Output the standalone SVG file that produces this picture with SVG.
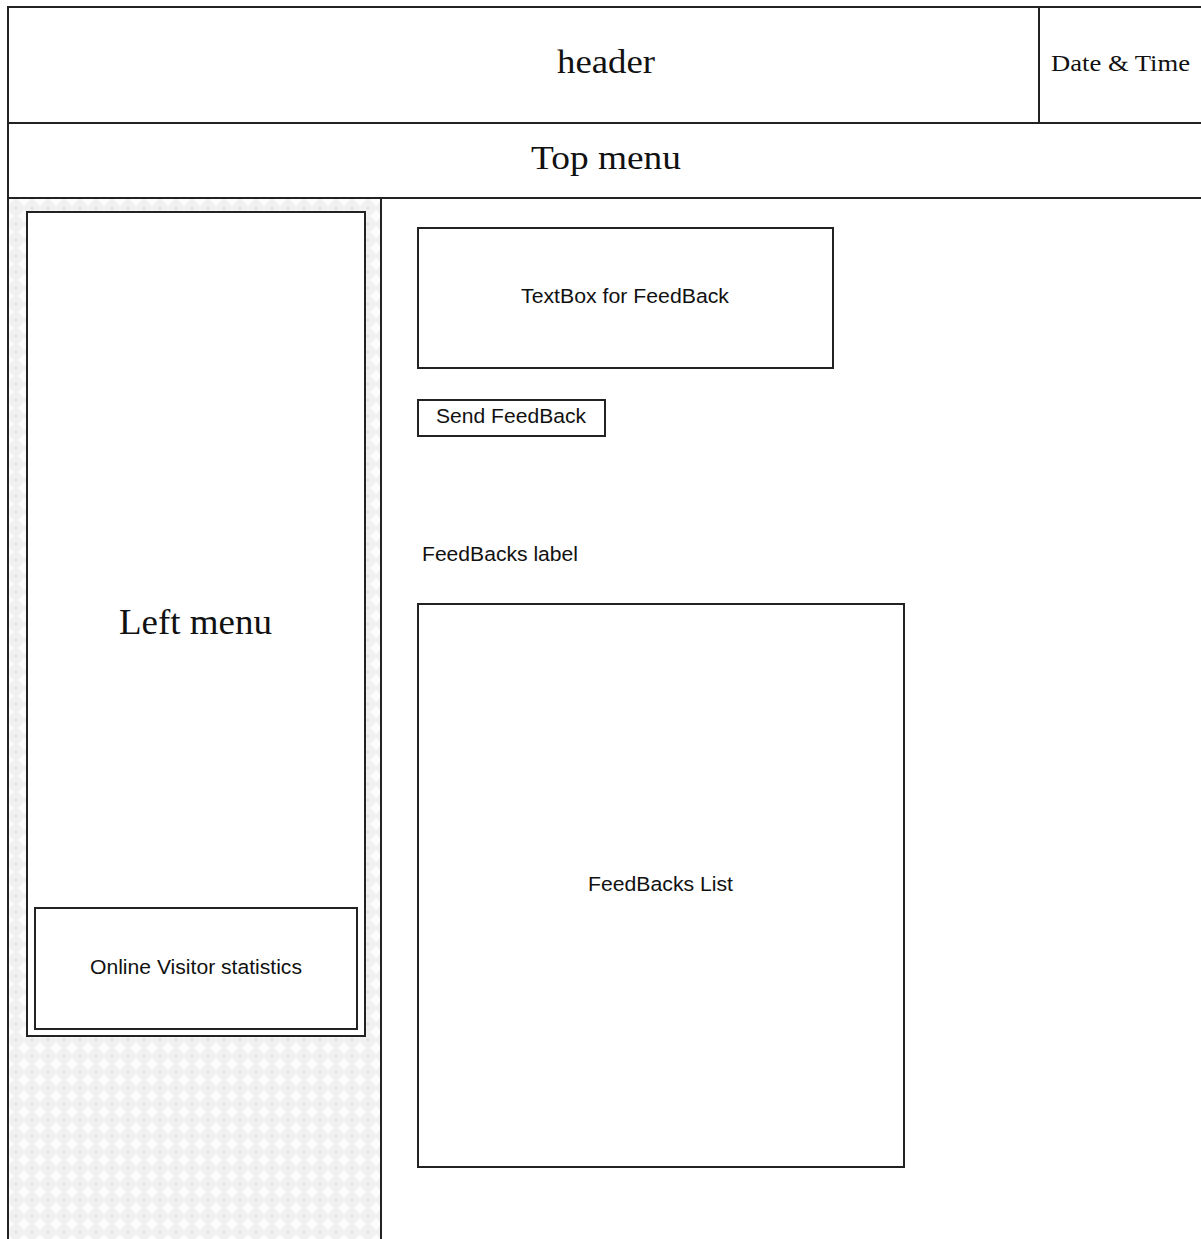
<svg xmlns="http://www.w3.org/2000/svg" width="1201" height="1239" viewBox="0 0 1201 1239">
  <style>
    .frame { fill: none; stroke: #222; stroke-width: 2; }
    .box { fill: #fff; stroke: #222; stroke-width: 2; }
    .serif { font-family: "Liberation Serif", "Times New Roman", serif; fill: #111; }
    .sans { font-family: "Liberation Sans", Arial, sans-serif; fill: #111; font-size: 20.5px; }
  </style>
  <defs>
    <pattern id="diamonds" width="16" height="16" patternUnits="userSpaceOnUse">
      <rect width="16" height="16" fill="#f1f1f1"/>
      <path d="M8 2 L14 8 L8 14 L2 8 Z" fill="#fcfcfc"/>
      <path d="M0 0 L2 0 L0 2 Z M16 0 L14 0 L16 2 Z M0 16 L2 16 L0 14 Z M16 16 L14 16 L16 14 Z" fill="#e2e2e2"/>
    </pattern>
  </defs>

  <rect width="1201" height="1239" fill="#fff"/>

  <!-- left column background -->
  <rect x="8" y="199" width="373" height="1040" fill="url(#diamonds)"/>

  <g id="header">
    <path class="frame" d="M1201 7 H8 V1239"/>
    <line class="frame" x1="1039" y1="7" x2="1039" y2="123"/>
    <text class="serif" x="557" y="73" font-size="33" textLength="98" lengthAdjust="spacingAndGlyphs">header</text>
  </g>

  <g id="date-time">
    <text class="serif" x="1051" y="71" font-size="23" textLength="139" lengthAdjust="spacingAndGlyphs">Date &amp; Time</text>
  </g>

  <g id="top-menu">
    <line class="frame" x1="8" y1="123" x2="1201" y2="123"/>
    <line class="frame" x1="8" y1="198" x2="1201" y2="198"/>
    <text class="serif" x="531" y="169" font-size="34" textLength="150" lengthAdjust="spacingAndGlyphs">Top menu</text>
  </g>

  <g id="left-column">
    <line class="frame" x1="381" y1="198" x2="381" y2="1239"/>
  </g>

  <g id="left-menu">
    <rect class="box" x="27" y="212" width="338" height="824"/>
    <text class="serif" x="119" y="634" font-size="35" textLength="153" lengthAdjust="spacingAndGlyphs">Left menu</text>
  </g>

  <g id="online-visitor-statistics">
    <rect class="box" x="35" y="908" width="322" height="121"/>
    <text class="sans" x="90" y="974" textLength="212" lengthAdjust="spacingAndGlyphs">Online Visitor statistics</text>
  </g>

  <g id="feedback-textbox">
    <rect class="box" x="418" y="228" width="415" height="140"/>
    <text class="sans" x="521" y="303" textLength="208" lengthAdjust="spacingAndGlyphs">TextBox for FeedBack</text>
  </g>

  <g id="send-feedback">
    <rect class="box" x="418" y="400" width="187" height="36"/>
    <text class="sans" x="436" y="423" textLength="150" lengthAdjust="spacingAndGlyphs">Send FeedBack</text>
  </g>

  <g id="feedbacks-label">
    <text class="sans" x="422" y="561" textLength="156" lengthAdjust="spacingAndGlyphs">FeedBacks label</text>
  </g>

  <g id="feedbacks-list">
    <rect class="box" x="418" y="604" width="486" height="563"/>
    <text class="sans" x="588" y="891" textLength="145" lengthAdjust="spacingAndGlyphs">FeedBacks List</text>
  </g>

  <g id="connectors"></g>
</svg>
